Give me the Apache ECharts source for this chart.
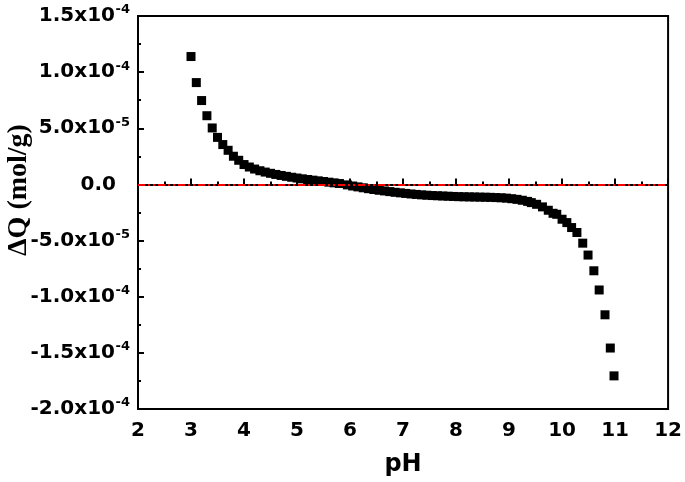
<!DOCTYPE html>
<html>
<head>
<meta charset="utf-8">
<script src="https://cdn.jsdelivr.net/npm/echarts@6/dist/echarts.min.js"></script>
<style>html,body{margin:0;padding:0;background:#fff;}#c{width:685px;height:482px;}</style>
</head>
<body>
<div id="c"></div>
<script>
// pH values
var phValues = [3.0,3.1,3.2,3.3,3.4,3.5,3.6,3.7,3.8,3.9,
  4.0,4.1,4.2,4.3,4.4,4.5,4.6,4.7,4.8,4.9,
  5.0,5.1,5.2,5.3,5.4,5.5,5.6,5.7,5.8,5.95,
  6.05,6.15,6.25,6.35,6.45,6.55,6.65,6.75,6.85,6.95,
  7.05,7.15,7.25,7.35,7.45,7.55,7.65,7.75,7.85,7.95,
  8.05,8.15,8.25,8.35,8.45,8.55,8.65,8.75,8.85,8.95,
  9.05,9.15,9.25,9.35,9.42,9.52,9.63,9.74,9.83,9.9,
  10.0,10.09,10.18,10.28,10.39,10.49,10.6,10.7,10.81,10.91,10.98];
// ΔQ values in units of 1e-5 mol/g
var dQ = [11.39,9.07,7.47,6.12,5.03,4.19,3.55,3.04,2.51,2.15,
  1.77,1.55,1.37,1.22,1.10,0.99,0.89,0.80,0.72,0.64,
  0.57,0.50,0.44,0.38,0.32,0.26,0.20,0.14,0.08,-0.04,
  -0.14,-0.22,-0.30,-0.38,-0.45,-0.52,-0.58,-0.64,-0.70,-0.75,
  -0.80,-0.85,-0.89,-0.93,-0.96,-0.99,-1.01,-1.03,-1.05,-1.07,
  -1.09,-1.10,-1.11,-1.12,-1.13,-1.14,-1.15,-1.17,-1.19,-1.22,
  -1.27,-1.33,-1.41,-1.51,-1.62,-1.77,-2.0,-2.3,-2.57,-2.66,
  -3.1,-3.4,-3.84,-4.28,-5.23,-6.29,-7.69,-9.40,-11.61,-14.57,-17.05];
var yTickLabels = {'1.5':'1.5x10|-4','1':'1.0x10|-4','0.5':'5.0x10|-5','0':'0.0','-0.5':'-5.0x10|-5','-1':'-1.0x10|-4','-1.5':'-1.5x10|-4','-2':'-2.0x10|-4'};
var xTitle = 'pH';
var yTitle = 'ΔQ (mol/g)';

var pts = phValues.map(function(p,i){ return [p, dQ[i]*1e-5]; });
var FONT = 'DejaVu Sans, Liberation Sans, Arial';
var chart = echarts.init(document.getElementById('c'));
chart.setOption({
  animation:false,
  backgroundColor:'#fff',
  grid:{left:138,right:13,top:16,bottom:72,show:true,borderColor:'#000',borderWidth:2,backgroundColor:'transparent'},
  xAxis:{type:'value',min:2,max:12,interval:1,
    axisLine:{lineStyle:{color:'#000',width:2}},
    axisTick:{inside:true,length:6,lineStyle:{width:2}},
    minorTick:{show:true,splitNumber:2,length:3,lineStyle:{color:'#000',width:2}},
    splitLine:{show:false},
    axisLabel:{color:'#000',fontFamily:FONT,fontWeight:'bold',fontSize:20,margin:12},
    name:xTitle,nameLocation:'middle',nameGap:44,
    nameTextStyle:{color:'#000',fontFamily:FONT,fontWeight:'bold',fontSize:24}
  },
  yAxis:{type:'value',min:-2e-4,max:1.5e-4,interval:5e-5,
    axisLine:{lineStyle:{color:'#000',width:2}},
    axisTick:{inside:true,length:6,lineStyle:{width:2}},
    minorTick:{show:true,splitNumber:2,length:3,lineStyle:{color:'#000',width:2}},
    splitLine:{show:false},
    axisLabel:{margin:8,
      formatter:function(v){
        var k = String(Math.round(v/1e-5)/10);
        var t = yTickLabels[k]; if(!t) return '';
        var parts = t.split('|');
        if(parts.length===1) return '{a|'+parts[0]+'}{e|}';
        return '{a|'+parts[0]+'}{s|'+parts[1]+'}';
      },
      rich:{
        a:{color:'#000',fontFamily:FONT,fontWeight:'bold',fontSize:20},
        s:{color:'#000',fontFamily:FONT,fontWeight:'bold',fontSize:13,verticalAlign:'top',padding:[0,0,12,1],width:14},
        e:{width:14}
      }
    }
  },
  graphic:[{type:'text',x:19,y:190,rotation:Math.PI/2,
    style:{text:yTitle,fill:'#000',font:'bold 28px "Liberation Serif", "Times New Roman", serif',
      textAlign:'center',textVerticalAlign:'middle'}}],
  series:[{
    type:'scatter',symbol:'rect',symbolSize:9,
    itemStyle:{color:'#000',opacity:1},
    data:pts,
    markLine:{silent:true,symbol:'none',label:{show:false},
      lineStyle:{color:'#ff0000',width:2,type:[7,3,2,3,2,3]},
      data:[{yAxis:0}]},
    z:3
  }]
});
</script>
</body>
</html>
